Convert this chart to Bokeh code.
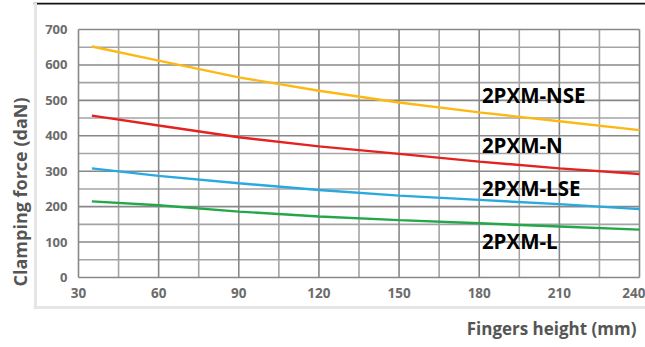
from bokeh.plotting import figure
from bokeh.models import FixedTicker, Span, Title, ColumnDataSource, Range1d
from bokeh.core.properties import value
from bokeh.embed import file_html
from bokeh.resources import INLINE

# ---- data ----
heights = [35, 60, 90, 120, 150, 180, 210, 240]
force_nse = [652, 612, 565, 527, 494, 466, 441, 416]
force_n = [457, 429, 396, 370, 349, 327, 308, 292]
force_lse = [308, 287, 266, 247, 231, 219, 207, 193]
force_l = [215, 204, 186, 172, 162, 153, 144, 135]
series_names = ["2PXM-NSE", "2PXM-N", "2PXM-LSE", "2PXM-L"]
x_ticks = [30, 60, 90, 120, 150, 180, 210, 240]
x_minor = [45, 75, 105, 135, 165, 195, 225]
y_ticks = [0, 100, 200, 300, 400, 500, 600, 700]
y_minor = [50, 150, 250, 350, 450, 550, 650]

colors = ["#FDB913", "#E3231F", "#2AA8E0", "#23A74A"]
FONT = "Open Sans"

# pixel <-> data helpers (plot region: x 30..240 at px 78..639, y 0..700 at px 277..29)
KX = (639 - 78) / (x_ticks[-1] - x_ticks[0])
KY = (277 - 29) / (y_ticks[-1] - y_ticks[0])
def dx(px):
    return x_ticks[0] + (px - 78) / KX
def dy(py):
    return y_ticks[0] + (277 - py) / KY

W, H = 645, 347
FL, FR, FT, FB = 33, 645, 2, 309   # frame = the chart panel
p = figure(width=W, height=H, output_backend="svg", toolbar_location=None,
           x_range=Range1d(dx(FL), dx(FR)), y_range=Range1d(dy(FB), dy(FT)),
           min_border_left=FL, min_border_right=W - FR, min_border_top=FT, min_border_bottom=H - FB)
p.background_fill_color = "white"
p.border_fill_color = "white"
p.outline_line_color = None
p.xgrid.visible = False
p.ygrid.visible = False

# axes fixed at the plot-region edges
p.xaxis.fixed_location = y_ticks[0]
p.yaxis.fixed_location = x_ticks[0]
p.xaxis.ticker = FixedTicker(ticks=x_ticks, minor_ticks=[])
p.yaxis.ticker = FixedTicker(ticks=y_ticks, minor_ticks=[])
for ax in (p.xaxis, p.yaxis):
    ax.axis_line_color = None
    ax.major_tick_line_color = None
    ax.minor_tick_line_color = None
    ax.major_tick_out = 0
    ax.major_tick_in = 0
    ax.major_label_text_font = FONT
    ax.major_label_text_font_style = "bold"
    ax.major_label_text_color = "#6b6b6b"
p.yaxis.major_label_text_font_size = "13px"
p.xaxis.major_label_text_font_size = "13.5px"
p.yaxis.major_label_standoff = 11
p.xaxis.major_label_standoff = 10

# grid of the plot region
x0, x1 = x_ticks[0], x_ticks[-1]
y0, y1 = y_ticks[0], y_ticks[-1]
p.segment(x0=x_minor, y0=[y0] * len(x_minor), x1=x_minor, y1=[y1] * len(x_minor),
          line_color="#a4a4a4", line_width=1.6)
p.segment(x0=[x0] * len(y_minor), y0=y_minor, x1=[x1] * len(y_minor), y1=y_minor,
          line_color="#a4a4a4", line_width=1.6)
p.segment(x0=x_ticks, y0=[y0] * len(x_ticks), x1=x_ticks, y1=[y1] * len(x_ticks),
          line_color="#888888", line_width=1.6)
p.segment(x0=[x0] * len(y_ticks), y0=y_ticks, x1=[x1] * len(y_ticks), y1=y_ticks,
          line_color="#888888", line_width=1.6)

all_series = [force_nse, force_n, force_lse, force_l]
for ys, c in zip(all_series, colors):
    p.line(heights, ys, line_color=c, line_width=2.4)

# series labels
lab_src = ColumnDataSource(dict(x=[181, 181, 181, 181], y=[514, 375, 253, 103], t=series_names))
p.text(x="x", y="y", text="t", source=lab_src, text_font=value(FONT), text_font_style="bold",
       text_font_size="20.5px", text_color="black", text_baseline="middle", text_align="left")

# panel borders
p.add_layout(Span(location=dy(3), dimension="width", line_color="#111111", line_width=2))
p.add_layout(Span(location=dx(35), dimension="height", line_color="#e6e6e6", line_width=3))
p.add_layout(Span(location=dy(307), dimension="width", line_color="#e6e6e6", line_width=3))

# axis titles
p.add_layout(Title(text="Clamping force (daN)", align="left", offset=23, standoff=3,
                   text_font=FONT, text_font_style="bold", text_font_size="18px",
                   text_color="#555555"), "left")
p.add_layout(Title(text="Fingers height (mm)", align="right", offset=9, standoff=10,
                   text_font=FONT, text_font_style="bold", text_font_size="17px",
                   text_color="#555555"), "below")

open("out.html", "w").write(file_html(p, INLINE))
